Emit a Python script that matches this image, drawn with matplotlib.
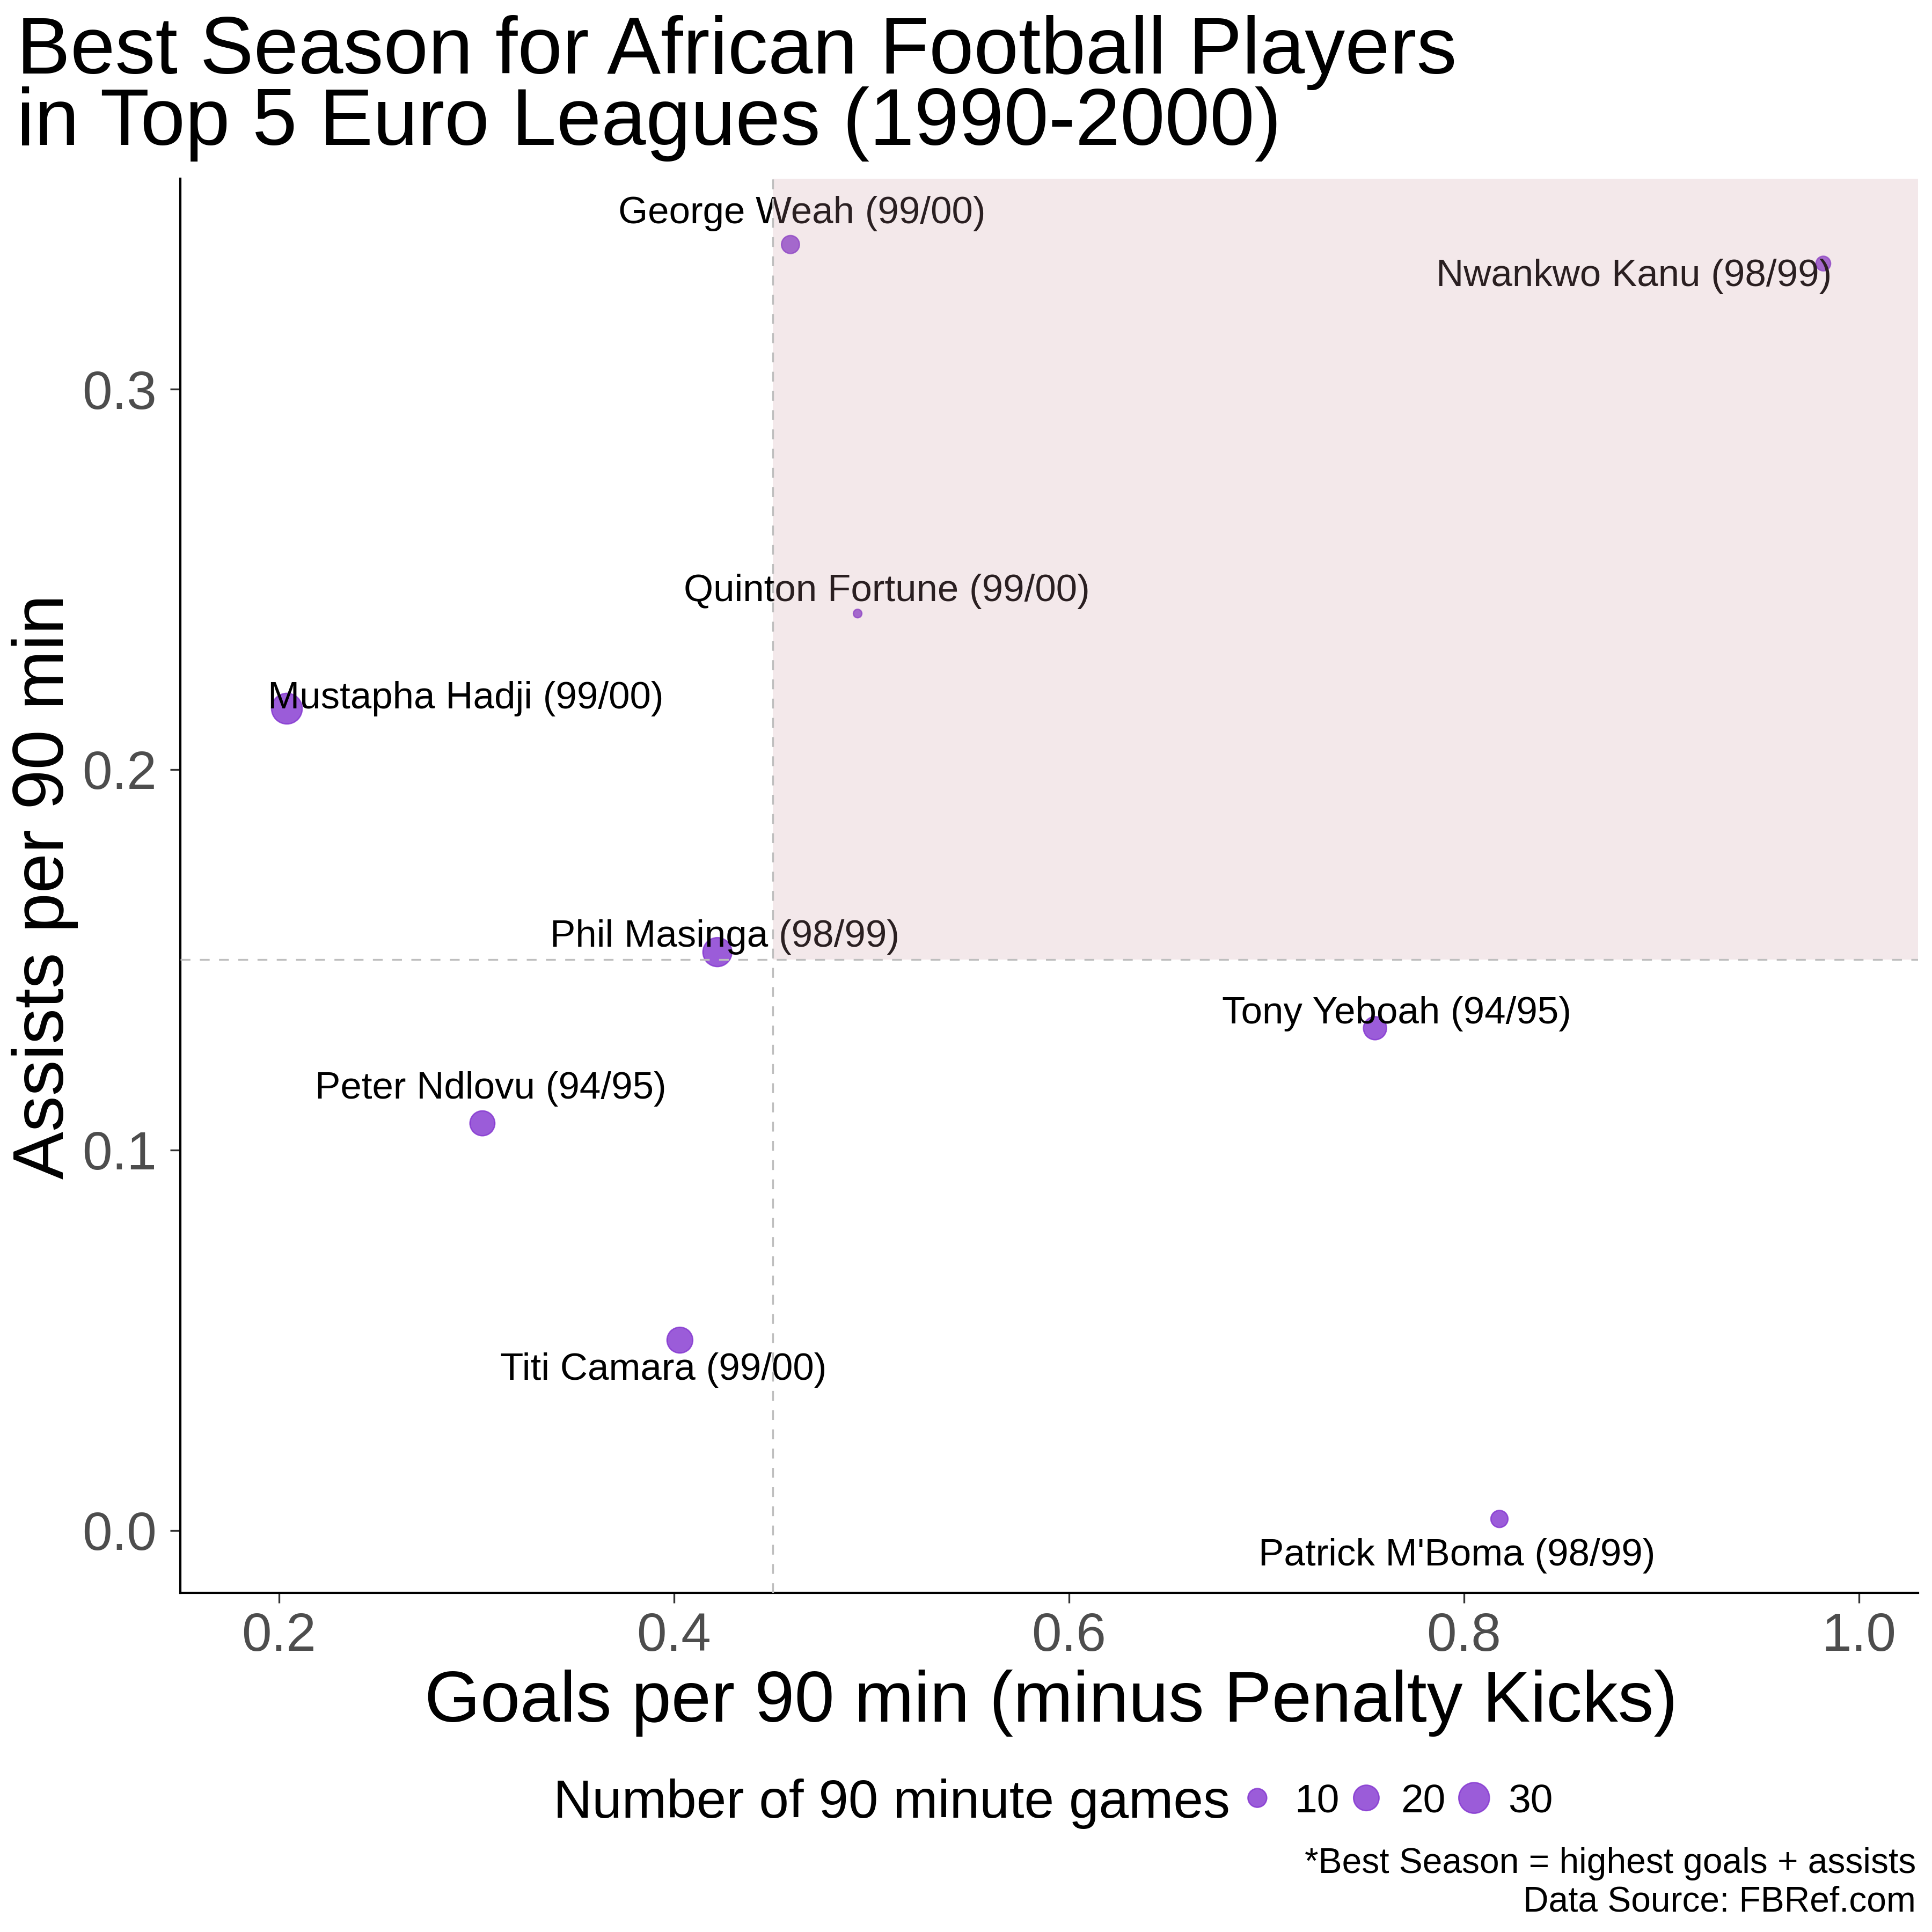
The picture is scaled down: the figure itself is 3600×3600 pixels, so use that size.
import numpy as np
import matplotlib
matplotlib.use("Agg")
import matplotlib.pyplot as plt
from matplotlib.patches import Rectangle

plt.rcParams['font.family'] = ['Liberation Sans', 'DejaVu Sans']

# Best season per player
players = ["George Weah (99/00)", "Nwankwo Kanu (98/99)", "Quinton Fortune (99/00)",
           "Mustapha Hadji (99/00)", "Phil Masinga (98/99)", "Tony Yeboah (94/95)",
           "Peter Ndlovu (94/95)", "Titi Camara (99/00)", "Patrick M'Boma (98/99)"]
goals_p90 = [0.459, 0.982, 0.493, 0.204, 0.422, 0.755, 0.303, 0.403, 0.818]
assists_p90 = [0.338, 0.333, 0.241, 0.216, 0.152, 0.132, 0.107, 0.050, 0.003]
games_90 = [9, 5.5, 1.2, 30, 26.5, 16, 19, 20.5, 8]
legend_games = [10, 20, 30]

# label offsets from each point, in points (repel-like placement)
label_offsets = [(5, 9.6), (-84.6, -10), (13, 5.5), (80, 0), (3.4, 2.4),
                 (9.7, 2.2), (3.6, 11), (-7.4, -17.8), (-19, -20.9)]

x_cut = 0.45
y_cut = 0.15

point_color = '#8233D0'
tick_color = '#4D4D4D'


def marker_area(games):
    # point area grows linearly with games played (like ggplot's scale_size)
    size_mm = np.sqrt(0.207 + 0.663 * np.asarray(games, dtype=float))
    diam = size_mm * 72.27 / 25.4 + 0.95
    return diam ** 2


fig = plt.figure(figsize=(12, 12), dpi=300)
ax = fig.add_axes([0.0933, 0.1756, 0.8995, 0.7319])

ax.scatter(goals_p90, assists_p90, s=marker_area(games_90), color=point_color,
           alpha=0.8, linewidths=0.6, zorder=3)

for name, x, y, off in zip(players, goals_p90, assists_p90, label_offsets):
    ax.annotate(name, (x, y), xytext=off, textcoords='offset points',
                ha='center', va='baseline', fontsize=17, color='black', zorder=4)

# highlight quadrant, drawn over the points and labels
ax.add_patch(Rectangle((x_cut, y_cut), 5, 5, facecolor='#C8979F', alpha=0.21,
                       edgecolor='none', zorder=5))
ax.axvline(x_cut, color='#BEBEBE', lw=0.8, ls=(0, (5.5, 5.25)), zorder=6)
ax.axhline(y_cut, color='#BEBEBE', lw=0.8, ls=(0, (5.5, 5.25)), zorder=6)

ax.set_xlim(0.15, 1.03)
ax.set_ylim(-0.0164, 0.3553)
ax.set_xticks([0.2, 0.4, 0.6, 0.8, 1.0])
ax.set_yticks([0.0, 0.1, 0.2, 0.3])
ax.set_xticklabels(['0.2', '0.4', '0.6', '0.8', '1.0'])
ax.set_yticklabels(['0.0', '0.1', '0.2', '0.3'])
ax.tick_params(axis='both', labelsize=24, labelcolor=tick_color, color='#333333',
               length=4.5, width=0.8)
ax.tick_params(axis='x', pad=4)
ax.tick_params(axis='y', pad=6)
for side in ['top', 'right']:
    ax.spines[side].set_visible(False)
for side in ['left', 'bottom']:
    ax.spines[side].set_linewidth(1.0)
    ax.spines[side].set_color('black')

# multi-line texts: baseline alignment refers to the last line
fig.text(0.0085, 0.925, "Best Season for African Football Players\nin Top 5 Euro Leagues (1990-2000)",
         ha='left', va='baseline', fontsize=36, linespacing=0.94)
fig.text(0.544, 0.109, "Goals per 90 min (minus Penalty Kicks)",
         ha='center', va='baseline', fontsize=32)
fig.text(0.0328, 0.541, "Assists per 90 min", rotation=90, rotation_mode='anchor',
         ha='center', va='baseline', fontsize=32)

# size legend at the bottom
fig.text(0.2864, 0.0592, "Number of 90 minute games", ha='left', va='baseline', fontsize=24)
legend_x = [0.6508, 0.7072, 0.763]
label_x = [0.670, 0.725, 0.7806]
ax.scatter(legend_x, [0.0694] * 3, s=marker_area(legend_games), color=point_color,
           alpha=0.8, linewidths=0.6, transform=fig.transFigure, clip_on=False)
for lx, g in zip(label_x, legend_games):
    fig.text(lx, 0.0617, str(g), ha='left', va='baseline', fontsize=18)

fig.text(0.9917, 0.01056, "*Best Season = highest goals + assists\nData Source: FBRef.com",
         ha='right', va='baseline', multialignment='right', fontsize=15.8)

plt.savefig('out.png', dpi=300)
